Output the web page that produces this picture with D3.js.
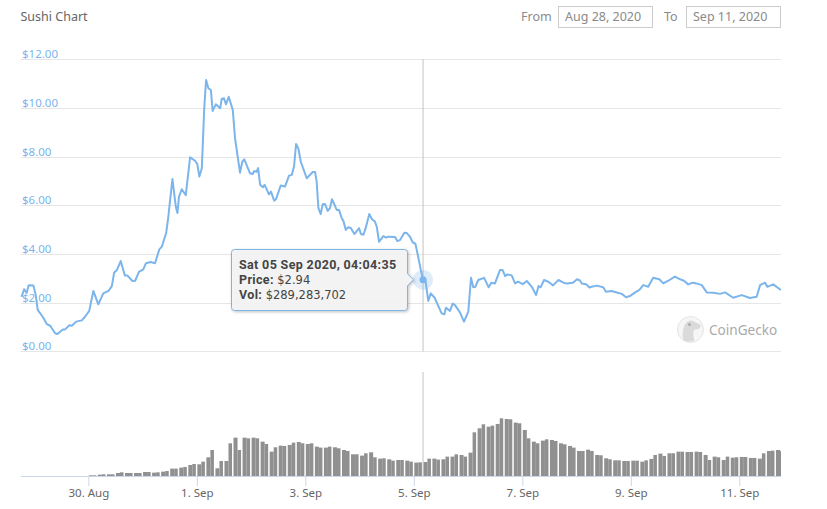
<!DOCTYPE html>
<html>
<head>
<meta charset="utf-8">
<title>Sushi Chart</title>
<script src="https://cdn.jsdelivr.net/npm/d3@7"></script>
<style>
  html, body { margin: 0; padding: 0; background: #fff; }
  svg { display: block; font-family: "Noto Sans", sans-serif; }
</style>
</head>
<body>
<div id="chart"></div>
<script>
// hours counted from 28 Aug 2020 00:00 UTC
const priceHours = [18.4,19.6,20.7,21.6,23.7,24.7,25.6,27.8,29.6,31.1,33.3,34.3,36.7,37.7,39.6,40.7,42.6,45.1,46.5,48.4,
  50.2,52.4,54.6,56.9,58.4,59.4,60.6,62.3,64.2,65.3,67.5,68.7,70.4,72.3,73.5,75.6,77.5,79.4,80.5,82.4,
  83.4,83.7,85.2,86.7,87.4,88.1,89.3,91.1,93.0,95.2,96.2,97.1,98.2,99.3,100.1,101.1,102.2,103.0,104.4,106.3,
  107.0,108.0,108.9,110.1,111.9,112.9,115.1,116.1,117.0,119.5,120.7,121.4,122.5,123.1,124.0,125.2,126.0,127.9,128.8,130.2,
  131.0,133.1,135.0,136.8,138.0,139.0,139.9,140.9,142.0,144.6,147.3,148.3,149.0,149.8,150.8,151.7,152.7,153.9,154.9,155.8,
  157.9,158.9,160.1,160.8,161.9,163.0,164.1,165.7,167.8,168.6,169.7,170.7,172.3,173.5,174.8,175.6,176.6,178.5,179.7,180.7,
  183.7,184.7,185.9,187.8,188.9,190.3,191.5,192.7,193.6,195.1,196.08,197.1,198.4,199.5,201.2,203.6,204.3,205.5,206.2,208.0,
  209.2,210.2,212.4,214.2,216.1,217.3,218.3,219.2,220.5,223.1,225.1,226.3,227.9,230.1,231.3,232.4,233.4,235.3,236.8,238.1,
  240.2,242.0,244.2,246.1,247.2,248.1,249.6,251.5,253.6,256.0,258.2,259.6,262.4,264.2,265.5,266.3,268.2,269.7,270.7,272.9,
  275.8,277.0,279.5,281.8,284.0,285.9,287.6,289.9,291.8,293.5,295.7,297.9,300.6,302.4,304.6,307.5,309.8,311.5,313.4,315.4,
  317.1,319.4,321.6,324.5,327.5,329.7,333.3,337.1,340.7,343.7,345.2,347.4,348.4,351.0,354.4];
const priceValues = [2.24,2.55,2.40,2.71,2.70,2.31,1.70,1.42,1.12,1.05,0.74,0.71,0.90,0.90,1.07,1.05,1.22,1.27,1.42,1.66,
  2.48,1.93,2.38,2.48,2.68,3.23,3.34,3.71,3.11,3.11,2.89,2.90,3.26,3.37,3.62,3.67,3.62,4.19,4.30,4.85,
  5.53,5.81,7.08,5.94,5.68,6.35,6.66,6.42,7.97,7.83,7.70,7.18,7.52,10.05,11.15,10.81,10.74,9.88,10.15,9.99,
  10.37,10.40,10.15,10.46,9.92,8.75,7.34,7.79,7.89,7.32,7.29,7.41,7.38,7.53,6.84,6.74,6.84,6.45,6.56,6.19,
  6.25,6.81,6.77,7.22,7.25,7.59,8.52,8.34,7.79,7.11,7.37,7.37,6.97,5.88,5.64,6.04,6.05,5.77,5.88,6.25,
  5.81,5.81,5.47,5.37,4.99,5.10,5.07,4.82,5.06,4.82,4.79,5.06,5.64,5.43,5.33,5.12,4.50,4.73,4.67,4.71,
  4.70,4.53,4.57,4.87,4.86,4.71,4.48,4.42,4.03,3.34,2.94,2.93,2.07,2.38,2.20,1.70,1.56,1.52,1.79,1.66,
  1.96,1.90,1.60,1.22,1.63,3.02,2.63,2.65,2.93,3.02,2.63,2.82,2.79,3.34,3.34,3.09,3.16,3.12,2.79,2.86,
  2.76,2.89,2.65,2.31,2.68,2.63,2.93,2.86,2.71,2.93,2.82,2.79,2.82,2.96,2.91,2.79,2.76,2.62,2.65,2.70,
  2.63,2.45,2.48,2.42,2.36,2.22,2.27,2.42,2.52,2.72,2.65,3.02,2.96,2.79,2.90,3.07,2.96,2.90,2.75,2.82,
  2.79,2.72,2.42,2.41,2.36,2.42,2.20,2.31,2.19,2.24,2.72,2.82,2.65,2.75,2.52];

// two-hour volume buckets in millions, the first one starts on 30 Aug
const volumeStartHour = 48;
const volumeStepHours = 2;
const volumeValues = [21,21,35,42,42,42,70,84,70,70,70,70,91,91,77,84,98,112,162,162,183,197,239,260,
  253,309,401,555,169,323,323,696,815,555,815,801,815,801,731,682,520,612,647,640,661,710,724,696,
  682,696,626,605,605,626,612,591,555,534,464,464,436,485,506,401,373,380,359,330,344,344,330,309,
  289,295,302,373,373,352,359,415,415,464,450,415,499,928,1012,1097,1047,1069,1104,1223,1209,1202,1132,1118,
  977,801,731,696,752,780,766,745,696,675,640,605,534,534,562,534,450,443,380,359,337,337,323,323,
  330,330,309,337,366,450,478,429,485,485,520,520,513,513,520,513,450,344,415,401,344,415,394,401,
  408,408,387,387,373,485,534,541,555,534];

const priceTicks = [0,2,4,6,8,10,12];
const dateTickHours = [48,96,144,192,240,288,336];
const dateTickLabels = ['30. Aug','1. Sep','3. Sep','5. Sep','7. Sep','9. Sep','11. Sep'];
const hoverHour = 196.08;
const hoverPrice = 2.94;
const tooltipLines = [['Sat 05 Sep 2020, 04:04:35',''],['Price: ','$2.94'],['Vol: ','$289,283,702']];

const W = 827, H = 509;
const margin = {l:21, r:46};
const startHour = 18.2, endHour = 354.45;
const toDate = h => new Date(Date.UTC(2020,7,28) + h*3600000);

const scaleX = d3.scaleUtc()
                 .domain([toDate(startHour), toDate(endHour)])
                 .range([margin.l, W - margin.r]);
const scaleY = d3.scaleLinear().domain([0,12]).range([351.3,59.3]);
const scaleVol = d3.scaleLinear().domain([0,2200]).range([476.3,372]);

const svg = d3.select('#chart').append('svg').attr('width',W).attr('height',H);

//title and the date range boxes
svg.append('text').attr('x',20.5).attr('y',21).attr('font-size',12.5).attr('fill','#666').text('Sushi Chart');

const rangeBoxes = [
  {label:'From', lx:521, x:558.5, text:'Aug 28, 2020'},
  {label:'To', lx:664, x:686.5, text:'Sep 11, 2020'}
];
rangeBoxes.forEach(b => {
  svg.append('text').attr('x',b.lx).attr('y',20.5).attr('font-size',12.5).attr('fill','#8a8a8a').text(b.label);
  svg.append('rect').attr('x',b.x).attr('y',6.5).attr('width',94).attr('height',21)
     .attr('fill','#fff').attr('stroke','#ccc');
  svg.append('text').attr('x',b.x+6.5).attr('y',20.5).attr('font-size',12.5).attr('fill','#8a8a8a').text(b.text);
});

//price axis, labels sit on top of the grid lines
const yAxis = svg.append('g')
  .attr('transform',`translate(${margin.l},0)`)
  .call(d3.axisRight(scaleY).tickValues(priceTicks).tickSize(W-margin.l-margin.r).tickFormat(d => '$'+d.toFixed(2)));
yAxis.select('.domain').remove();
yAxis.selectAll('.tick').attr('transform', d => `translate(0,${Math.round(scaleY(d))+0.5})`);
yAxis.selectAll('.tick line').attr('stroke','#e6e6e6');
yAxis.selectAll('.tick text')
     .attr('x',1).attr('dy',-1.5).attr('dominant-baseline','auto')
     .attr('font-size',11.5).attr('font-family','"Noto Sans", sans-serif').attr('fill','#7cb5ec');

//volume bars, a one pixel gap after every second bucket
const barStep = scaleX(toDate(volumeStepHours)) - scaleX(toDate(0));
svg.append('g').selectAll('rect')
   .data(volumeValues)
   .join('rect')
   .attr('x', (d,i) => scaleX(toDate(volumeStartHour + i*volumeStepHours)) + (i%2 ? 0 : 0.5))
   .attr('y', d => scaleVol(d))
   .attr('width', (d,i) => Math.min(barStep - (i%2 ? 1 : 0.5), W - margin.r - scaleX(toDate(volumeStartHour + i*volumeStepHours))))
   .attr('height', d => scaleVol(0) - scaleVol(d))
   .attr('fill','#909090');

//date axis
const xAxis = svg.append('g')
  .attr('transform','translate(0,476)')
  .call(d3.axisBottom(scaleX).tickValues(dateTickHours.map(toDate)).tickSize(10).tickPadding(3)
        .tickFormat((d,i) => dateTickLabels[i]));
xAxis.select('.domain').attr('stroke','#ccd6eb').attr('d',`M${margin.l},0.5H${W-margin.r}`);
xAxis.selectAll('.tick line').attr('stroke','#ccd6eb');
xAxis.selectAll('.tick text').attr('font-size',11.5).attr('font-family','"Noto Sans", sans-serif').attr('fill','#666');

//crosshair in both panes
const hoverX = scaleX(toDate(hoverHour));
[[59,351.5],[372,476]].forEach(r => {
  svg.append('line').attr('x1',hoverX).attr('x2',hoverX).attr('y1',r[0]).attr('y2',r[1])
     .attr('stroke','#c4c4c4').attr('stroke-width',1);
});

//price line
const line = d3.line().x(d => scaleX(toDate(d[0]))).y(d => scaleY(d[1])).curve(d3.curveLinear);
svg.append('path')
   .datum(d3.zip(priceHours, priceValues))
   .attr('d',line)
   .attr('fill','none')
   .attr('stroke','#7cb5ec')
   .attr('stroke-width',2)
   .attr('stroke-linejoin','round');

//hover marker
const hoverY = scaleY(hoverPrice);
svg.append('circle').attr('cx',hoverX).attr('cy',hoverY).attr('r',10).attr('fill','#7cb5ec').attr('opacity',0.25);
svg.append('circle').attr('cx',hoverX).attr('cy',hoverY).attr('r',3.5).attr('fill','#7cb5ec');

//tooltip
const tip = svg.append('g').attr('transform','translate(231.5,249.5)');
const tw = 176, th = 61, r = 3, ay = hoverY - 249.5;
tip.append('path')
   .attr('d',`M${r},0H${tw-r}Q${tw},0 ${tw},${r}V${ay-6}L${tw+6},${ay}L${tw},${ay+6}V${th-r}Q${tw},${th} ${tw-r},${th}H${r}Q0,${th} 0,${th-r}V${r}Q0,0 ${r},0Z`)
   .attr('fill','#f7f7f7').attr('fill-opacity',0.9)
   .attr('stroke','#7cb5ec').attr('stroke-width',1)
   .style('filter','drop-shadow(1px 1px 1.5px rgba(0,0,0,0.25))');
tooltipLines.forEach((l,i) => {
  const t = tip.append('text').attr('x',7.5).attr('y',19 + i*15).attr('fill','#444');
  t.append('tspan').attr('font-family','Roboto, sans-serif').attr('font-size',12.5).attr('font-weight','bold')
   .attr('letter-spacing',0.35).text(l[0]);
  t.append('tspan').attr('font-family','"DejaVu Sans", sans-serif').attr('font-size',11.5).text(l[1]);
});

//watermark
const logo = svg.append('g').attr('transform','translate(690.5,329.5)').attr('opacity',0.55);
logo.append('circle').attr('r',13).attr('fill','#f0f0f0').attr('stroke','#ccc').attr('stroke-width',1);
logo.append('path')
    .attr('d','M-7,11C-9,2 -7,-8 0,-9C4,-9 6,-6 10,-5C11,-2 8,0 4,0C2,3 3,8 4,11Q-2,13 -7,11Z')
    .attr('fill','#bdbdbd');
logo.append('circle').attr('cx',-1).attr('cy',-5).attr('r',1.5).attr('fill','#666');
svg.append('text').attr('x',709).attr('y',334.5).attr('font-size',13.6).attr('fill','#aaa').text('CoinGecko');
</script>
</body>
</html>
